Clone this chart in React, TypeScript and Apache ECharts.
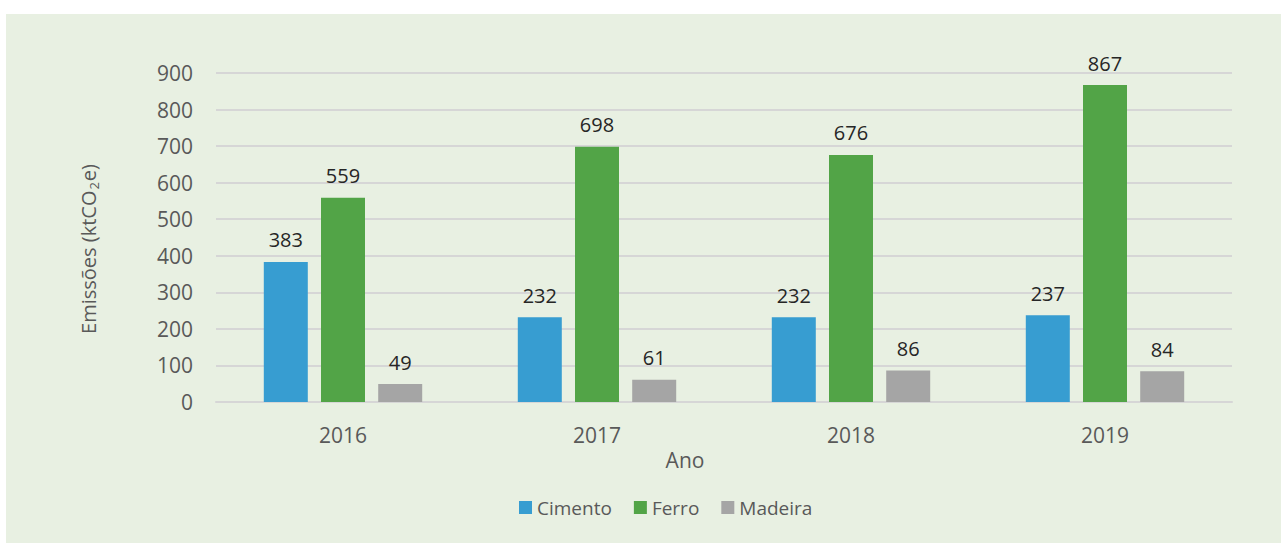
import React, { useEffect, useRef } from "react";
import * as echarts from "echarts";

const categories = ["2016", "2017", "2018", "2019"];
const cimento = [383, 232, 232, 237];
const ferro = [559, 698, 676, 867];
const madeira = [49, 61, 86, 84];
const seriesNames = ["Cimento", "Ferro", "Madeira"];
const colors = ["#379DD1", "#52A447", "#A5A5A5"];

const FONT = "'Open Sans', 'Noto Sans', sans-serif";

export default function App() {
  const ref = useRef<HTMLDivElement>(null);
  useEffect(() => {
    if (!ref.current) return;
    const chart = echarts.init(ref.current, undefined, { renderer: "svg" });
    const values = [cimento, ferro, madeira];
    const labelStyle = {
      show: true,
      position: "top" as const,
      distance: 12,
      fontSize: 20,
      color: "#262626",
      fontFamily: FONT,
    };
    chart.setOption({
      animation: false,
      textStyle: { fontFamily: FONT },
      graphic: [
        {
          type: "rect",
          z: -100,
          silent: true,
          shape: { x: 6, y: 14, width: 1275, height: 529 },
          style: { fill: "#E8F0E2" },
        },
        {
          type: "text",
          x: 88,
          y: 249,
          rotation: Math.PI / 2,
          style: {
            text: "{m|Emissões (ktCO}{sub|2}{m|e)}",
            fontSize: 20,
            fontFamily: FONT,
            fill: "#595959",
            align: "center",
            verticalAlign: "middle",
            rich: {
              m: { fontSize: 20, fill: "#595959", fontFamily: FONT, verticalAlign: "middle" },
              sub: {
                fontSize: 13,
                fill: "#595959",
                fontFamily: FONT,
                verticalAlign: "middle",
                padding: [11, 1, 0, 1],
              },
            },
          },
        },
        {
          type: "text",
          x: 685,
          y: 460,
          style: {
            text: "Ano",
            fontSize: 21,
            fontFamily: FONT,
            fill: "#595959",
            align: "center",
            verticalAlign: "middle",
          },
        },
      ],
      legend: {
        data: seriesNames,
        left: 514,
        top: 493,
        itemWidth: 13,
        itemHeight: 13,
        itemGap: 22,
        icon: "rect",
        textStyle: { fontSize: 19, color: "#595959", fontFamily: FONT },
      },
      grid: { left: 216, right: 49, top: 73, bottom: 141, containLabel: false },
      xAxis: {
        type: "category",
        data: categories,
        axisTick: { show: false },
        axisLine: { lineStyle: { color: "#D6D6D6", width: 2 } },
        axisLabel: { fontSize: 21, color: "#595959", margin: 22, fontFamily: FONT },
      },
      yAxis: {
        type: "value",
        min: 0,
        max: 900,
        interval: 100,
        axisLine: { show: false },
        axisTick: { show: false },
        splitLine: { lineStyle: { color: "#D6D6D6", width: 2 } },
        axisLabel: { fontSize: 21, color: "#595959", margin: 23, fontFamily: FONT },
      },
      series: seriesNames.map((name, i) => ({
        name,
        type: "bar",
        data: values[i],
        barWidth: 44,
        barGap: "30%",
        itemStyle: { color: colors[i] },
        label: labelStyle,
      })),
    });
    return () => chart.dispose();
  }, []);
  return (
    <div
      ref={ref}
      style={{ position: "fixed", left: 0, top: 0, width: 1281, height: 543, background: "#ffffff" }}
    />
  );
}
